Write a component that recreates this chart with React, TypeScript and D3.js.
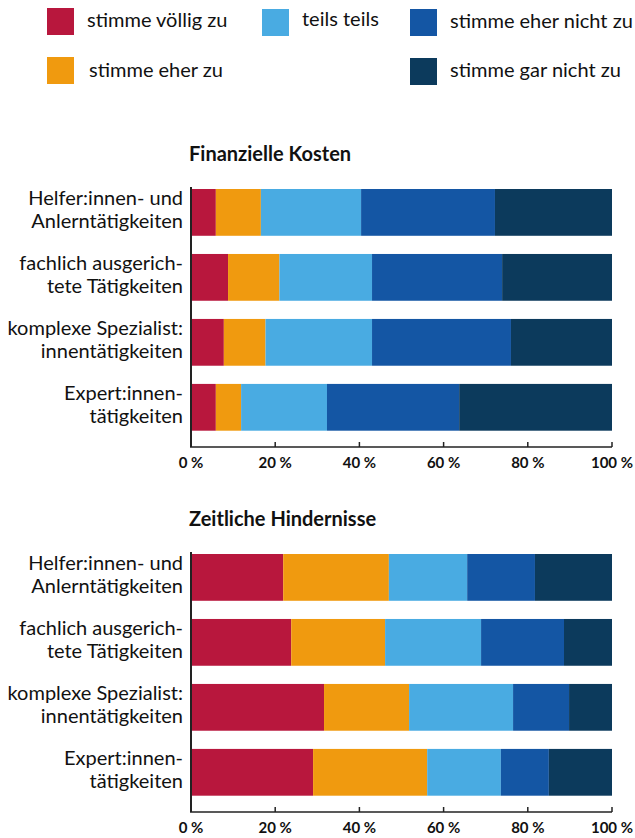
import React from "react";
import * as d3 from "d3";

const series = ["stimme völlig zu", "stimme eher zu", "teils teils", "stimme eher nicht zu", "stimme gar nicht zu"];
const colors = ["#b8173d", "#f09a0f", "#49abe2", "#1456a4", "#0c3a5c"];
const categories = [
  ["Helfer:innen- und", "Anlerntätigkeiten"],
  ["fachlich ausgerich-", "tete Tätigkeiten"],
  ["komplexe Spezialist:", "innentätigkeiten"],
  ["Expert:innen-", "tätigkeiten"],
];
const kostenValues = [
  [5.9, 10.7, 23.8, 31.8, 27.8],
  [8.8, 12.2, 22.0, 30.9, 26.1],
  [7.8, 9.9, 25.3, 33.0, 24.0],
  [5.9, 6.0, 20.4, 31.4, 36.3],
];
const zeitValues = [
  [21.9, 25.1, 18.6, 16.1, 18.3],
  [23.8, 22.3, 22.8, 19.7, 11.4],
  [31.6, 20.2, 24.7, 13.3, 10.2],
  [29.0, 27.1, 17.5, 11.4, 15.0],
];
const panelTitles = ["Finanzielle Kosten", "Zeitliche Hindernisse"];
const tickValues = [0, 20, 40, 60, 80, 100];

const FONT = "Lato, 'Noto Sans', sans-serif";

const x = d3.scaleLinear().domain([0, 100]).range([191, 612]);

function Panel({ title, values, top }: { title: string; values: number[][]; top: number }) {
  const y = d3
    .scaleBand<number>()
    .domain(d3.range(categories.length))
    .range([top + 28, top + 269.7])
    .paddingInner(0.28)
    .paddingOuter(0);
  const axisY = top + 286;
  const stacked = values.map((row) => {
    const cum = d3.cumsum(row);
    return row.map((v, i) => ({ x0: cum[i] - v, x1: cum[i], i }));
  });
  return (
    <g>
      <text x={189} y={top} fontFamily={FONT} fontWeight={700} fontSize={20} fill="#111">
        {title}
      </text>
      {stacked.map((row, ci) => (
        <g key={ci}>
          {row.map((s) => (
            <rect
              key={s.i}
              x={x(s.x0)}
              y={y(ci)!}
              width={x(s.x1) - x(s.x0)}
              height={y.bandwidth()}
              fill={colors[s.i]}
            />
          ))}
          <text
            x={183}
            y={y(ci)! + y.bandwidth() / 2}
            textAnchor="end"
            fontFamily={FONT}
            fontSize={20}
            fill="#111"
          >
            <tspan x={183} dy={-7}>{categories[ci][0]}</tspan>
            <tspan x={183} dy={23}>{categories[ci][1]}</tspan>
          </text>
        </g>
      ))}
      <line x1={191} x2={191} y1={top + 26} y2={axisY} stroke="#222" strokeWidth={2} />
      <line x1={190} x2={x(100)} y1={axisY} y2={axisY} stroke="#222" strokeWidth={1.5} />
      {tickValues.map((t) => (
        <g key={t}>
          {t > 0 && <line x1={x(t)} x2={x(t)} y1={axisY - 5} y2={axisY} stroke="#222" strokeWidth={1.5} />}
          <text
            x={x(t)}
            y={axisY + 20.5}
            textAnchor="middle"
            fontFamily={FONT}
            fontWeight={700}
            fontSize={15}
            fill="#111"
          >
            {t + " %"}
          </text>
        </g>
      ))}
    </g>
  );
}

const legendItems = [
  { i: 0, bx: 47, by: 8, tx: 87, ty: 27 },
  { i: 2, bx: 262, by: 9, tx: 302, ty: 25.5 },
  { i: 3, bx: 410, by: 9, tx: 450, ty: 28 },
  { i: 1, bx: 47, by: 57, tx: 89, ty: 77 },
  { i: 4, bx: 410, by: 58, tx: 450, ty: 77 },
];

export default function App() {
  return (
    <svg width={635} height={838} style={{ position: "absolute", left: 0, top: 0, background: "#fff" }}>
      {legendItems.map((l) => (
        <g key={l.i}>
          <rect x={l.bx} y={l.by} width={27} height={27} fill={colors[l.i]} />
          <text x={l.tx} y={l.ty} fontFamily={FONT} fontSize={20} fill="#111">
            {series[l.i]}
          </text>
        </g>
      ))}
      <Panel title={panelTitles[0]} values={kostenValues} top={161} />
      <Panel title={panelTitles[1]} values={zeitValues} top={526} />
    </svg>
  );
}
